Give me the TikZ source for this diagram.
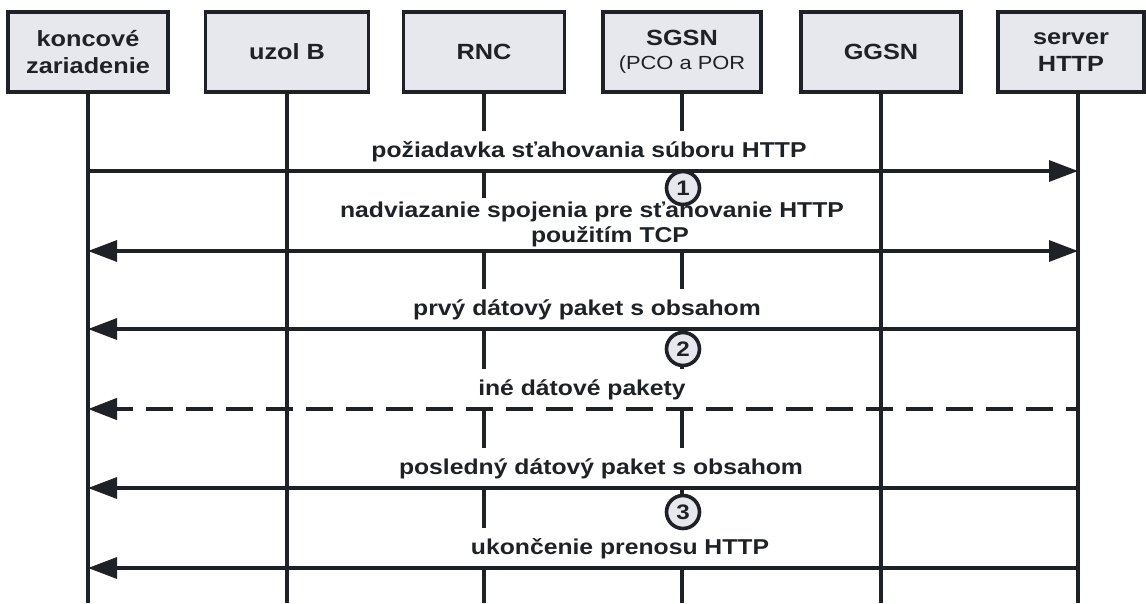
\documentclass[tikz,border=0pt]{standalone}
\usepackage{fontspec}
\setmainfont[FakeStretch=1.15]{Liberation Sans}
\usetikzlibrary{arrows.meta}
\definecolor{ink}{HTML}{1E2226}
\definecolor{boxfill}{HTML}{E6E8EE}

\begin{document}
\begin{tikzpicture}[x=1pt,y=-1pt,
  actor/.style={draw=ink, line width=3.8pt, fill=boxfill, minimum height=80pt,
    align=center, inner sep=0pt, text=ink,
    font=\bfseries\fontsize{22}{27}\selectfont},
  life/.style={draw=ink, line width=3.6pt},
  msg/.style={draw=ink, line width=3.2pt},
  headR/.style={-{Triangle[length=29pt,width=21pt]}},
  headL/.style={{Triangle[length=29pt,width=21pt]}-},
  headLR/.style={{Triangle[length=29pt,width=21pt]}-{Triangle[length=29pt,width=21pt]}},
  lbl/.style={fill=white, anchor=south, text=ink, inner xsep=3pt, inner ysep=0pt,
    text height=27pt, text depth=13pt,
    font=\bfseries\fontsize{21.5}{26}\selectfont},
  lbltwo/.style={fill=white, anchor=south, text=ink, inner xsep=3pt, inner ysep=4pt,
    align=center, font=\bfseries\fontsize{21.5}{25}\selectfont},
  phase/.style={circle, draw=ink, line width=3.6pt, fill=boxfill, minimum size=33pt,
    inner sep=0pt, text=ink, font=\bfseries\fontsize{21}{21}\selectfont}
]
\useasboundingbox (0,0) rectangle (1146,603);

% participants
\node[actor, minimum width=160pt] (ue)   at (88,52)   {koncové\\zariadenie};
\node[actor, minimum width=163pt] (nb)   at (287,52)  {uzol B};
\node[actor, minimum width=161pt] (rnc)  at (484,52)  {RNC};
\node[actor, minimum width=158pt] (sgsn) at (682,52)
  {SGSN\\[-3pt]{\mdseries\fontsize{19}{22}\selectfont(PCO a POR}};
\node[actor, minimum width=160pt] (ggsn) at (881,52)  {GGSN};
\node[actor, minimum width=146pt] (srv)  at (1071,52) {server\\HTTP};

% lifeline ends
\coordinate (bottom) at (0,603);
\coordinate (srvTop) at (1078,92);

% message rows
\coordinate (m1) at (0,171);
\coordinate (m2) at (0,251);
\coordinate (m3) at (0,329);
\coordinate (m4) at (0,409);
\coordinate (m5) at (0,488);
\coordinate (m6) at (0,568);

% lifelines
\draw[life] (ue.south)   -- (ue.south |- bottom);
\draw[life] (nb.south)   -- (nb.south |- bottom);
\draw[life] (rnc.south)  -- (rnc.south |- bottom);
\draw[life] (sgsn.south) -- (sgsn.south |- bottom);
\draw[life] (ggsn.south) -- (ggsn.south |- bottom);
\draw[life] (srvTop)     -- (srvTop |- bottom);

% message labels
\node[lbl]    (t1) at (589,171) {požiadavka sťahovania súboru HTTP};
\node[lbltwo] (t2) at (592,251) {nadviazanie spojenia pre sťahovanie HTTP\\\hspace*{36pt}použitím TCP};
\node[lbl]    (t3) at (587,329) {prvý dátový paket s obsahom};
\node[lbl]    (t4) at (582,409) {iné dátové pakety};
\node[lbl]    (t5) at (601,488) {posledný dátový paket s obsahom};
\node[lbl]    (t6) at (620,568) {ukončenie prenosu HTTP};

% messages
\draw[msg, headR]  (ue.south |- m1) -- (srvTop |- m1);
\draw[msg, headLR] (ue.south |- m2) -- (srvTop |- m2);
\draw[msg, headL]  (ue.south |- m3) -- (srvTop |- m3);
\draw[msg, line width=4.4pt, headL, dash pattern=on 27pt off 13pt, dash phase=10pt]
  (ue.south |- m4) -- (srvTop |- m4);
\draw[msg, headL]  (ue.south |- m5) -- (srvTop |- m5);
\draw[msg, headL]  (ue.south |- m6) -- (srvTop |- m6);

% phase markers
\node[phase] (p1) at (683,188) {1};
\node[phase] (p2) at (683,349) {2};
\node[phase] (p3) at (683,512) {3};
\end{tikzpicture}
\end{document}
